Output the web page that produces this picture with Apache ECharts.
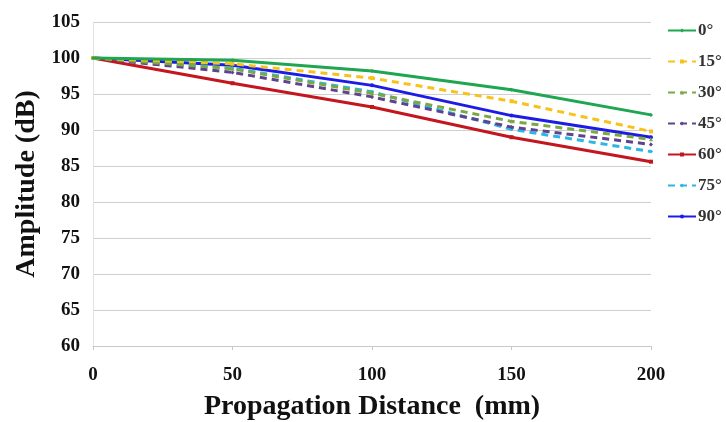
<!DOCTYPE html>
<html><head><meta charset="utf-8">
<script src="https://cdn.jsdelivr.net/npm/echarts@6/dist/echarts.min.js"></script>
<style>html,body{margin:0;padding:0;background:#fff}#c{width:726px;height:422px}</style>
</head><body><div id="c"></div>
<script>
const distances = [0, 50, 100, 150, 200];
const seriesNames = ['0°', '15°', '30°', '45°', '60°', '75°', '90°'];
const deg0  = [100, 99.7, 98.2, 95.6, 92.1];
const deg15 = [100, 99.2, 97.2, 94.0, 89.8];
const deg30 = [100, 98.5, 95.1, 91.2, 88.7];
const deg45 = [100, 98.0, 94.6, 90.4, 88.0];
const deg60 = [100, 96.5, 93.2, 89.0, 85.6];
const deg75 = [100, 98.6, 95.3, 90.1, 87.0];
const deg90 = [100, 99.0, 96.2, 92.0, 89.0];
const yTicks = [60, 65, 70, 75, 80, 85, 90, 95, 100, 105];

const values = [deg0, deg15, deg30, deg45, deg60, deg75, deg90];
const colors = ['#1ea650', '#f7c21a', '#7aa843', '#60428f', '#c3161e', '#2ab7e6', '#1c1ce6'];
const dashed = [false, true, true, true, false, true, false];
const symbols = ['diamond', 'rect', 'triangle', 'diamond', 'rect', 'diamond', 'circle'];
const font = '"Liberation Serif", "Times New Roman", serif';

const chart = echarts.init(document.getElementById('c'));
chart.setOption({
  animation: false,
  grid: { left: 93, right: 75, top: 22, bottom: 76, containLabel: false, outerBoundsMode: 'none' },
  legend: {
    orient: 'vertical', left: 662, top: 17, itemGap: 14, itemWidth: 28, itemHeight: 5,
    data: seriesNames,
    textStyle: { fontFamily: font, fontWeight: 'bold', fontSize: 17, color: '#333', padding: [0, 0, 0, -3] }
  },
  xAxis: {
    type: 'value', min: 0, max: 200, interval: 50,
    name: 'Propagation Distance  (mm)', nameLocation: 'middle', nameGap: 47,
    nameTextStyle: { fontFamily: font, fontWeight: 'bold', fontSize: 28, color: '#111' },
    axisLine: { lineStyle: { color: '#c8c8c8' } },
    axisTick: { show: true, lineStyle: { color: '#c8c8c8' }, length: 4 },
    axisLabel: { fontFamily: font, fontWeight: 'bold', fontSize: 19, color: '#111', margin: 20 },
    splitLine: { show: false }
  },
  yAxis: {
    type: 'value', min: 60, max: 105, interval: 5,
    name: 'Amplitude (dB)', nameLocation: 'middle', nameGap: 52,
    nameTextStyle: { fontFamily: font, fontWeight: 'bold', fontSize: 28, color: '#111' },
    axisLine: { show: true, lineStyle: { color: '#e2e2e2' } },
    axisTick: { show: false },
    axisLabel: { fontFamily: font, fontWeight: 'bold', fontSize: 19, color: '#111', margin: 13,
      formatter: v => yTicks.includes(v) ? String(v) : '' },
    splitLine: { lineStyle: { color: '#cfcfcf' } }
  },
  series: seriesNames.map((n, i) => ({
    name: n, type: 'line',
    data: distances.map((d, j) => [d, values[i][j]]),
    symbol: symbols[i], symbolSize: 4,
    itemStyle: { color: colors[i] },
    lineStyle: { color: colors[i], width: 3, type: dashed[i] ? [7, 5] : 'solid' },
    z: 10 - i
  }))
});
</script></body></html>
